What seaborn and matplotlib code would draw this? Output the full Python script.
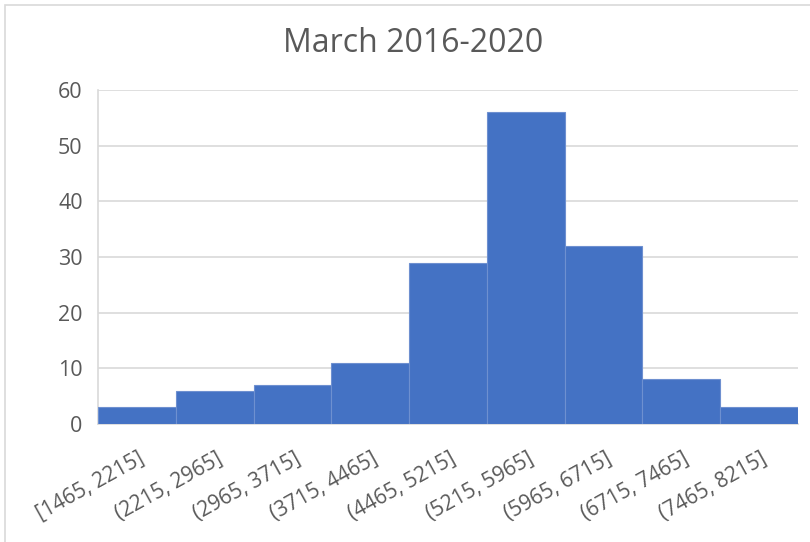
import matplotlib
matplotlib.use("Agg")
import matplotlib.pyplot as plt
import matplotlib.transforms as mtransforms
from matplotlib.patches import Rectangle
import seaborn as sns
import pandas as pd

# Histogram of March values, 2016-2020
bins = ["[1465, 2215]", "(2215, 2965]", "(2965, 3715]", "(3715, 4465]",
        "(4465, 5215]", "(5215, 5965]", "(5965, 6715]", "(6715, 7465]",
        "(7465, 8215]"]
counts = [3, 6, 7, 11, 29, 56, 32, 8, 3]
y_ticks = [0, 10, 20, 30, 40, 50, 60]
title = "March 2016-2020"

df = pd.DataFrame({"bin": bins, "count": counts})

sns.set_theme(style="white")
plt.rcParams["font.family"] = ["Open Sans", "DejaVu Sans"]

W, H = 810, 542
fig = plt.figure(figsize=(W / 100, H / 100), dpi=100)
ax = fig.add_axes([98 / W, 1 - 424 / H, 700 / W, 334 / H])

sns.barplot(data=df, x="bin", y="count", color="#4472C4", saturation=1,
            width=1.0, edgecolor="#6E90D0", linewidth=0.8, ax=ax, zorder=3)

ax.set_xlim(-0.5, len(bins) - 0.5)
ax.set_ylim(0, 60)
ax.set_yticks(y_ticks)
ax.yaxis.grid(True, color="#D9D9D9", linewidth=1.2, zorder=0)
ax.set_xlabel("")
ax.set_ylabel("")
for side in ["top", "right"]:
    ax.spines[side].set_visible(False)
ax.spines["left"].set_color("#D9D9D9")
ax.spines["left"].set_linewidth(1.2)
ax.spines["bottom"].set_color("#D9D9D9")
ax.spines["bottom"].set_linewidth(1.2)
ax.tick_params(axis="y", length=0, labelsize=15.5, colors="#595959", pad=11)
ax.tick_params(axis="x", length=0, labelsize=15, colors="#595959", pad=24)
shift = mtransforms.ScaledTranslation(6 / 100, 0, fig.dpi_scale_trans)
for lbl in ax.get_xticklabels():
    lbl.set_rotation(29)
    lbl.set_ha("right")
    lbl.set_va("center")
    lbl.set_rotation_mode("anchor")
    lbl.set_transform(lbl.get_transform() + shift)

fig.text(413 / W, 1 - 43 / H, title, ha="center", va="center",
         fontsize=23, color="#595959")

# light chart border
fig.patches.append(Rectangle((5 / W, -0.02), 1.0, 1 - 5 / H + 0.02,
                             transform=fig.transFigure, fill=False,
                             edgecolor="#D9D9D9", linewidth=1.2))

fig.savefig("out.png", dpi=100)
